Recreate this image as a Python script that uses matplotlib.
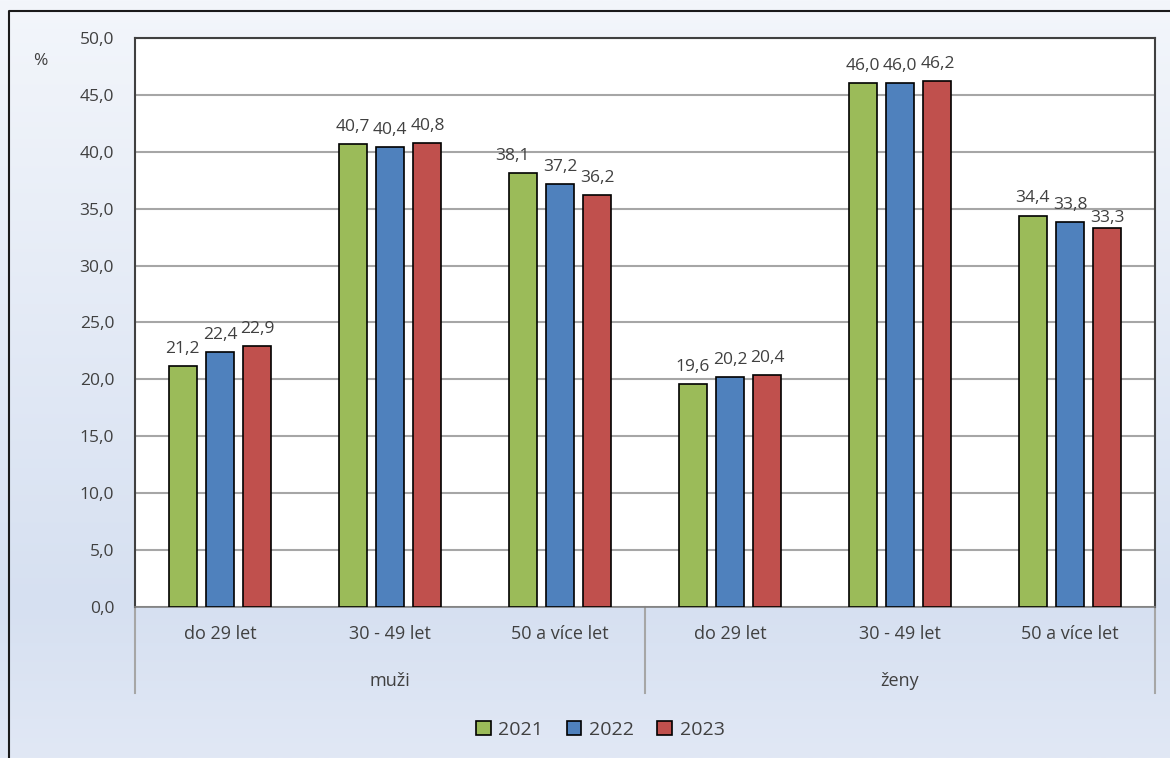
import numpy as np
import matplotlib.pyplot as plt
from matplotlib.colors import LinearSegmentedColormap
from matplotlib.lines import Line2D
from matplotlib.patches import Patch

plt.rcParams['font.family'] = ['Open Sans', 'DejaVu Sans']

groups = ['muži', 'ženy']
ages = ['do 29 let', '30 - 49 let', '50 a více let']
years = ['2021', '2022', '2023']
v2021 = [21.2, 40.7, 38.1, 19.6, 46.0, 34.4]
v2022 = [22.4, 40.4, 37.2, 20.2, 46.0, 33.8]
v2023 = [22.9, 40.8, 36.2, 20.4, 46.2, 33.3]
colors = ['#9BBB59', '#4F81BD', '#C0504D']
txt = '#404040'

fig = plt.figure(figsize=(11.7, 7.58), dpi=100)

# background gradient
bg = fig.add_axes([0, 0, 1, 1], zorder=-10)
cmap = LinearSegmentedColormap.from_list('bg', [(0, '#e1e8f5'), (0.2, '#d6e0f1'), (1, '#f3f6fb')])
bg.imshow(np.linspace(0, 1, 256).reshape(-1, 1), aspect='auto', cmap=cmap,
          extent=[0, 1, 0, 1], origin='lower')
bg.set_xlim(0, 1)
bg.set_ylim(0, 1)
bg.axis('off')
# outer border (top and left visible)
bg.plot([0.0077, 0.0077, 1.0], [0.0, 0.9855, 0.9855], color='#1a1a1a', lw=1.5)

ax = fig.add_axes([0.1154, 0.1992, 0.8718, 0.7507])
ax.set_facecolor('white')
x = np.arange(len(v2021))
w = 0.165
step = 0.22
for i, vals in enumerate([v2021, v2022, v2023]):
    pos = x + (i - 1) * step
    ax.bar(pos, vals, width=w, color=colors[i], edgecolor='black', linewidth=1.2,
           zorder=3, label=years[i])
    for p, v in zip(pos, vals):
        dx, dy = 0, 0.8
        if v == 38.1:
            dx = -0.06
        if v == 33.3:
            dy = 0.2
        ax.text(p + dx, v + dy, f'{v:.1f}'.replace('.', ','), ha='center', va='bottom',
                fontsize=12.5, color=txt, zorder=4)

ax.set_xlim(-0.5, len(v2021) - 0.5)
ax.set_ylim(0, 50)
ax.set_yticks(np.arange(0, 51, 5))
ax.set_yticklabels([f'{t:.1f}'.replace('.', ',') for t in np.arange(0, 51, 5)],
                   fontsize=12.5, color=txt)
ax.tick_params(axis='y', length=0, pad=15)
ax.yaxis.grid(True, color='#a6a6a6', lw=1.5, zorder=0)
ax.set_xticks([])
for s in ['left', 'top', 'right']:
    ax.spines[s].set_color('#404040')
    ax.spines[s].set_linewidth(1.5)
ax.spines['bottom'].set_color('#7f7f7f')
ax.spines['bottom'].set_linewidth(1.2)

# two-level category axis
for i, a in enumerate(ages * 2):
    ax.text(i, -2.4, a, ha='center', va='center', fontsize=13, color=txt,
            clip_on=False)
for g, name in enumerate(groups):
    ax.text(g * 3 + 1, -6.5, name, ha='center', va='center', fontsize=13, color=txt,
            clip_on=False)
for xv in [-0.5, 2.5, 5.5]:
    ax.add_line(Line2D([xv, xv], [0, -7.6], color='#a6a6a6', lw=1.5, clip_on=False))

ax.text(-1.1, 48.0, '%', fontsize=12.5, color=txt, ha='left', va='center', clip_on=False)

handles = [Patch(facecolor=c, edgecolor='black', linewidth=1.2) for c in colors]
fig.legend(handles, years, loc='center', bbox_to_anchor=(0.513, 0.037), ncol=3,
           frameon=False, fontsize=14, handlelength=0.75, handleheight=0.75,
           handletextpad=0.4, columnspacing=1.2, labelcolor=txt)

fig.savefig('out.png', dpi=100)
